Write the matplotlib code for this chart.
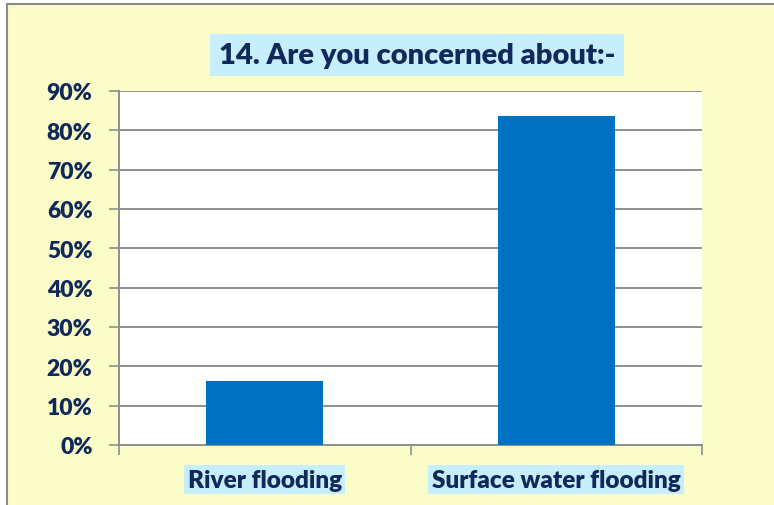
import matplotlib.pyplot as plt
from matplotlib.patches import Rectangle
from matplotlib.ticker import FuncFormatter

categorias = ['River flooding', 'Surface water flooding']
percentagens = [16.3, 83.7]
titulo = '14. Are you concerned about:-'

cor_texto = '#10285A'
cor_caixa = '#C7EEFC'
cor_fundo = '#FAFDC8'
cor_barra = '#0070C0'
cor_grelha = '#8E8E8E'

plt.rcParams['font.family'] = ['Lato', 'DejaVu Sans']

fig = plt.figure(figsize=(7.74, 5.06), dpi=100, facecolor='white')

# fundo amarelo com moldura cinzenta
fig.patches.append(Rectangle((7 / 774, -0.1), 1.1, 1 - 5 / 506 + 0.1, transform=fig.transFigure,
                             facecolor=cor_fundo, edgecolor='#8A8A8A', linewidth=1.5, zorder=-10))

ax = fig.add_axes([119 / 774, 1 - 446 / 506, 583 / 774, 354 / 506])
ax.set_facecolor('white')

x = list(range(len(categorias)))
ax.bar(x, percentagens, width=0.4, color=cor_barra, zorder=3)

ax.set_xlim(-0.5, 1.5)
ax.set_ylim(0, 90)
ax.set_yticks(range(0, 91, 10))
ax.yaxis.set_major_formatter(FuncFormatter(lambda v, p: f'{v:.0f}%'))
ax.grid(axis='y', color=cor_grelha, linewidth=1.4, zorder=1)
ax.set_axisbelow(True)

ax.set_xticks([-0.5, 0.5, 1.5])
ax.set_xticklabels([])
ax.tick_params(axis='x', length=7, width=1.2, color=cor_grelha)
ax.tick_params(axis='y', length=7, width=1.2, color=cor_grelha, pad=12,
               labelsize=16.5, labelcolor=cor_texto)
for lbl in ax.get_yticklabels():
    lbl.set_fontweight('heavy')

for lado in ['top', 'right']:
    ax.spines[lado].set_visible(False)
ax.spines['left'].set_color(cor_grelha)
ax.spines['left'].set_linewidth(1.4)
ax.spines['bottom'].set_color(cor_grelha)
ax.spines['bottom'].set_linewidth(1.4)

for xi, nome in zip(x, categorias):
    ax.text(xi, -8.8, nome, ha='center', va='center', fontsize=17.5, fontweight='heavy',
            color=cor_texto, bbox=dict(facecolor=cor_caixa, edgecolor='none', pad=2.5))

fig.text(417 / 774, 1 - 56 / 506, titulo, ha='center', va='center', fontsize=21,
         fontweight='heavy', color=cor_texto,
         bbox=dict(facecolor=cor_caixa, edgecolor='none', pad=6))

fig.savefig('out.png', dpi=100, facecolor=fig.get_facecolor())
